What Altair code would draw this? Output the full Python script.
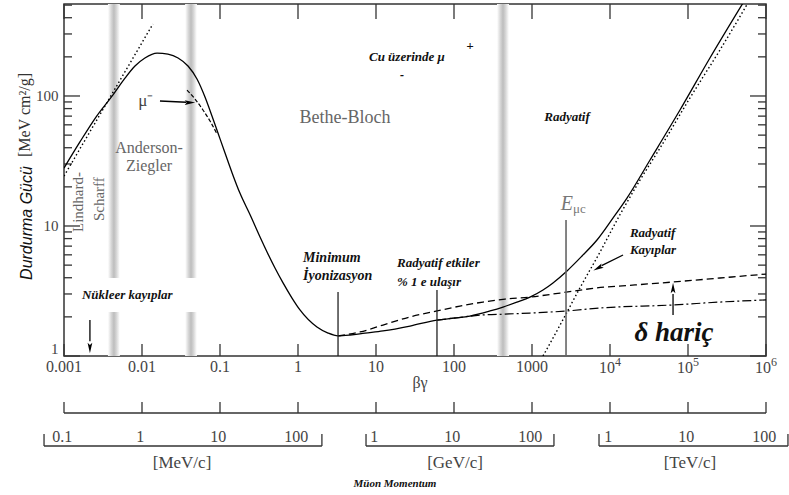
import altair as alt
import pandas as pd

SERIF = "Liberation Serif"
SANS = "Liberation Sans"
W, H = 702, 352

# ---------------- data (βγ , stopping power MeV cm²/g) ----------------
SOLID_BG = [0.001, 0.0016, 0.00257, 0.00425, 0.00605, 0.00813, 0.0109, 0.0156, 0.0215, 0.029,
            0.0389, 0.0507, 0.0642, 0.0789, 0.0942, 0.116, 0.143, 0.180, 0.243, 0.326,
            0.401, 0.507, 0.643, 0.838, 1.06, 1.75, 2.43, 3.26, 4.65, 7.23,
            12.3, 27.3, 60.5, 103, 160, 290, 425, 642, 942, 1384,
            1858, 2810, 4380, 6810, 10900, 16500, 32600, 78900, 191000, 507000]
SOLID_S = [27.9, 44.3, 68.9, 102, 137, 170, 196, 214, 210, 196,
           170, 135, 98.2, 70.2, 51.9, 36.4, 25.6, 17.9, 12.2, 8.23,
           6.31, 4.75, 3.65, 2.79, 2.26, 1.67, 1.50, 1.43, 1.45, 1.50,
           1.56, 1.70, 1.89, 1.96, 2.03, 2.22, 2.38, 2.60, 2.84, 3.22,
           3.65, 4.51, 5.88, 7.80, 11.5, 16.4, 32.2, 78.0, 196, 519]

NODELTA_BG = [3.26, 6.24, 12.3, 27.3, 60.5, 119, 235, 451, 942, 2290, 6810, 20900, 64300, 257000, 1e6]
NODELTA_S = [1.43, 1.53, 1.73, 2.0, 2.22, 2.42, 2.60, 2.74, 2.84, 3.05, 3.34, 3.52, 3.71, 3.98, 4.27]

ION_BG = [60.5, 103, 235, 451, 942, 2810, 7450, 64300, 257000, 1e6]
ION_S = [1.89, 1.96, 2.07, 2.10, 2.14, 2.22, 2.34, 2.47, 2.60, 2.70]

RAD_BG = [1384, 2290, 4120, 7450, 13400, 24300, 43800, 106000, 257000, 587000]
RAD_S = [1.0, 1.73, 3.34, 6.31, 12.2, 22.6, 39.8, 96.6, 226, 519]

LINDHARD_BG = [0.001, 0.0138]
LINDHARD_S = [24.2, 358]

MUMINUS_BG = [0.0378, 0.0478, 0.0605, 0.0745, 0.0916]
MUMINUS_S = [111, 94.8, 78.0, 64.2, 51.0]

MARK_BG = [3.26, 60.5]
MARK_TOP = [3.1, 3.22]
EMUC_BG = [2730]
EMUC_TOP = [11.1]

BAND_LO = [0.00366, 0.0357, 356]
BAND_HI = [0.0052, 0.0506, 507]

X_MAJOR = [0.001, 0.01, 0.1, 1, 10, 100, 1000, 1e4, 1e5, 1e6]
X_LABEL = ["0.001", "0.01", "0.1", "1", "10", "100", "1000", "10", "10", "10"]
X_EXP = ["", "", "", "", "", "", "", "4", "5", "6"]
Y_MAJOR = [1, 10, 100]
Y_MINOR = [2, 3, 4, 5, 6, 7, 8, 9, 20, 30, 40, 50, 60, 70, 80, 90, 200, 300, 400, 500]

MU_MASS_MEV = 105.66
P_LO = [0.0586, 787, 764000]
P_HI = [214, 202000, 202000000]
P_TICKS = [0.1, 1, 10, 100, 1000, 10000, 100000, 1e6, 1e7, 1e8]
P_LABEL = ["0.1", "1", "10", "100", "1", "10", "100", "1", "10", "100"]
UNIT_TEXT = ["[MeV/c]", "[GeV/c]", "[TeV/c]"]
UNIT_BG = [0.0326, 103, 106000]

# ---------------- scales ----------------
xs = alt.Scale(type="log", domain=[0.001, 1e6], nice=False, zero=False)
ys = alt.Scale(type="log", domain=[1, 510], nice=False, zero=False)
yaxis = alt.Axis(values=Y_MAJOR, format="~g", ticks=False, domain=False, grid=False,
                 labelFont=SERIF, labelFontSize=15, labelColor="#444", labelPadding=6,
                 labelFlush=True, title=None)


def X(f):
    return alt.X(f, type="quantitative", scale=xs, axis=None)


def X2(f):
    return alt.X2(f)


def Y(f):
    return alt.Y(f, type="quantitative", scale=ys, axis=yaxis)


def line(bg, s, dash=None, width=1.3, color="black"):
    df = pd.DataFrame({"bg": bg, "s": s})
    kw = dict(color=color, strokeWidth=width, clip=True, interpolate="monotone")
    if dash:
        kw["strokeDash"] = dash
    return alt.Chart(df).mark_line(**kw).encode(x=X("bg"), y=Y("s"))


def txt(text, x, y, size, color="black", bold=False, italic=False, align="center",
        angle=0, font=SERIF):
    df = pd.DataFrame({"t": [text], "x": [x], "y": [y]})
    kw = dict(font=font, fontSize=size, color=color, align=align, baseline="middle")
    if bold:
        kw["fontWeight"] = "bold"
    if italic:
        kw["fontStyle"] = "italic"
    if angle:
        kw["angle"] = angle
    return alt.Chart(df).mark_text(**kw).encode(x=X("x"), y=Y("y"), text="t:N")


ARROW = "M0,-1L0.45,1L0,0.6L-0.45,1Z"


def head(x, y, angle, size=110):
    df = pd.DataFrame({"x": [x], "y": [y]})
    kw = dict(shape=ARROW, filled=True, color="black", size=size, opacity=1)
    if angle:
        kw["angle"] = angle
    return alt.Chart(df).mark_point(**kw).encode(x=X("x"), y=Y("y"))


def seg(x1, y1, x2, y2, color="black", width=1.3):
    df = pd.DataFrame({"x": [x1, x2], "y": [y1, y2]})
    return alt.Chart(df).mark_line(color=color, strokeWidth=width).encode(x=X("x"), y=Y("y"))


layers = []

# gray bands
grad = alt.LinearGradient(gradient="linear", x1=0, x2=1, y1=0, y2=0,
                          stops=[alt.GradientStop(color="#ffffff", offset=0),
                                 alt.GradientStop(color="#d4d4d4", offset=0.3),
                                 alt.GradientStop(color="#bdbdbd", offset=0.5),
                                 alt.GradientStop(color="#d4d4d4", offset=0.7),
                                 alt.GradientStop(color="#ffffff", offset=1)])
bands = pd.DataFrame({"lo": BAND_LO, "hi": BAND_HI})
layers.append(alt.Chart(bands).mark_rect(fill=grad).encode(
    x=X("lo"), x2=X2("hi"), y=alt.value(0), y2=alt.value(H)))

# white box behind "Nükleer kayıplar"
layers.append(alt.Chart(pd.DataFrame({"a": [0.0029], "b": [0.0555], "c": [2.18], "d": [3.98]}))
              .mark_rect(color="white").encode(x=X("a"), x2=X2("b"), y=Y("c"), y2=alt.Y2("d")))

# ticks
xt = pd.DataFrame({"v": X_MAJOR})
layers.append(alt.Chart(xt).mark_rule(color="#333", strokeWidth=1.3).encode(
    x=X("v"), y=alt.value(H - 12), y2=alt.value(H)))
layers.append(alt.Chart(xt).mark_rule(color="#333", strokeWidth=1.3).encode(
    x=X("v"), y=alt.value(0), y2=alt.value(15)))
ymj = pd.DataFrame({"v": Y_MAJOR})
ymn = pd.DataFrame({"v": Y_MINOR})
for dfv, ln in ((ymj, 16), (ymn, 8)):
    layers.append(alt.Chart(dfv).mark_rule(color="#333", strokeWidth=1.3).encode(
        y=Y("v"), x=alt.value(0), x2=alt.value(ln)))
    layers.append(alt.Chart(dfv).mark_rule(color="#333", strokeWidth=1.3).encode(
        y=Y("v"), x=alt.value(W - ln), x2=alt.value(W)))

# curves
layers.append(line(LINDHARD_BG, LINDHARD_S, dash=[1.5, 2.5], width=1.4))
layers.append(line(RAD_BG, RAD_S, dash=[1.5, 2.5], width=1.4))
layers.append(line(ION_BG, ION_S, dash=[9, 3, 2, 3], width=1.2))
layers.append(line(NODELTA_BG, NODELTA_S, dash=[7, 4], width=1.3))
layers.append(line(MUMINUS_BG, MUMINUS_S, dash=[4, 2], width=1.2))
layers.append(line(SOLID_BG, SOLID_S, width=1.3))

# vertical marker lines
mk = pd.DataFrame({"bg": MARK_BG, "top": MARK_TOP})
layers.append(alt.Chart(mk).mark_rule(color="#222", strokeWidth=1.3).encode(
    x=X("bg"), y=Y("top"), y2=alt.value(H)))
em = pd.DataFrame({"bg": EMUC_BG, "top": EMUC_TOP})
layers.append(alt.Chart(em).mark_rule(color="#666", strokeWidth=1.6).encode(
    x=X("bg"), y=Y("top"), y2=alt.value(H)))

# gray region labels
layers.append(txt("Lindhard-", 0.00151, 15.3, 15, color="#666", angle=270))
layers.append(txt("Scharff", 0.00281, 16.1, 15, color="#666", angle=270))
layers.append(txt("Anderson-", 0.0123, 39.8, 16, color="#666"))
layers.append(txt("Ziegler", 0.0123, 28.9, 16, color="#666"))
layers.append(txt("Bethe-Bloch", 4.0, 67.7, 18, color="#666"))
layers.append(txt("μ⁻", 0.0112, 91.5, 17, color="#444"))
layers.append(txt("E", 3360, 14.8, 20, color="#777", italic=True, align="right"))
layers.append(txt("μc", 3360, 13.6, 13, color="#777", align="left"))

# bold italic annotations
BI = dict(bold=True, italic=True, color="#111")
layers.append(txt("Cu üzerinde  μ", 24.9, 200, 13, **BI))
layers.append(txt("+", 160, 243, 13, **BI))
layers.append(txt("-", 21.5, 145, 12, **BI))
layers.append(txt("Minimum", 1.16, 5.67, 14, align="left", **BI))
layers.append(txt("İyonizasyon", 1.16, 4.12, 14, align="left", **BI))
layers.append(txt("Radyatif etkiler", 18.6, 5.19, 13, align="left", **BI))
layers.append(txt("% 1 e ulaşır", 18.6, 3.71, 13, align="left", **BI))
layers.append(txt("Radyatif", 2810, 68.9, 13, **BI))
layers.append(txt("Radyatif", 18000, 8.83, 13, align="left", **BI))
layers.append(txt("Kayıplar", 18000, 6.54, 13, align="left", **BI))
layers.append(txt("δ hariç", 66200, 1.50, 27, **BI))
layers.append(txt("Nükleer kayıplar", 0.0017, 2.94, 13, align="left", **BI))

# arrows
layers.append(seg(0.017, 91.5, 0.037, 89.5))
layers.append(head(0.0412, 89, 90))
layers.append(seg(14700, 5.98, 7800, 4.95))
layers.append(head(7020, 4.75, 242))
layers.append(seg(64300, 2.07, 64300, 3.0))
layers.append(head(64300, 3.34, 0))
layers.append(seg(0.00215, 1.89, 0.00215, 1.3))
layers.append(head(0.00215, 1.15, 180))

# x tick labels (bottom of plot)
xl = pd.DataFrame({"v": X_MAJOR, "t": X_LABEL, "e": X_EXP})
layers.append(alt.Chart(xl).transform_filter("datum.e == ''").mark_text(
    font=SERIF, fontSize=16, color="#444", baseline="middle").encode(
    x=X("v"), y=alt.value(H + 11), text="t:N"))
layers.append(alt.Chart(xl).transform_filter("datum.e != ''").mark_text(
    font=SERIF, fontSize=16, color="#444", baseline="middle", dx=-3).encode(
    x=X("v"), y=alt.value(H + 12), text="t:N"))
layers.append(alt.Chart(xl).transform_filter("datum.e != ''").mark_text(
    font=SERIF, fontSize=12, color="#444", baseline="middle", align="left", dx=5).encode(
    x=X("v"), y=alt.value(H + 6), text="e:N"))
layers.append(txt("βγ", 36.7, 1, 16, color="#444").encode(y=alt.value(H + 27)))

# second βγ scale line
layers.append(alt.Chart(pd.DataFrame({"a": [0.001], "b": [1e6]})).mark_rule(
    color="#333", strokeWidth=1.3).encode(x=X("a"), x2=X2("b"), y=alt.value(H + 57)))
layers.append(alt.Chart(xt).mark_rule(color="#333", strokeWidth=1.3).encode(
    x=X("v"), y=alt.value(H + 46), y2=alt.value(H + 57)))

# momentum brackets
br = pd.DataFrame({"lo": P_LO, "hi": P_HI}).assign(
    blo=lambda d: d.lo / MU_MASS_MEV, bhi=lambda d: d.hi / MU_MASS_MEV)
layers.append(alt.Chart(br).mark_rule(color="#333", strokeWidth=1.3).encode(
    x=X("blo"), x2=X2("bhi"), y=alt.value(H + 90)))
ends = pd.DataFrame({"v": list(br.blo) + list(br.bhi)})
layers.append(alt.Chart(ends).mark_rule(color="#333", strokeWidth=1.3).encode(
    x=X("v"), y=alt.value(H + 78), y2=alt.value(H + 90)))
pl = pd.DataFrame({"p": P_TICKS, "t": P_LABEL}).assign(bg=lambda d: d.p / MU_MASS_MEV)
layers.append(alt.Chart(pl).mark_text(font=SERIF, fontSize=16, color="#444", baseline="middle").encode(
    x=X("bg"), y=alt.value(H + 81), text="t:N"))
ul = pd.DataFrame({"bg": UNIT_BG, "t": UNIT_TEXT})
layers.append(alt.Chart(ul).mark_text(font=SERIF, fontSize=17, color="#444", baseline="middle").encode(
    x=X("bg"), y=alt.value(H + 107), text="t:N"))
layers.append(txt("Müon Momentum", 17.5, 1, 11, **BI).encode(y=alt.value(H + 128)))

# y-axis title (two fonts)
layers.append(alt.Chart(pd.DataFrame({"t": ["Durdurma Gücü"]})).mark_text(
    font=SANS, fontSize=16, fontStyle="italic", color="#111", angle=270, baseline="middle").encode(
    x=alt.value(-37), y=alt.value(219), text="t:N"))
layers.append(alt.Chart(pd.DataFrame({"t": ["[MeV cm²/g]"]})).mark_text(
    font=SERIF, fontSize=16, color="#333", angle=270, baseline="middle").encode(
    x=alt.value(-39), y=alt.value(111), text="t:N"))

chart = alt.layer(*layers).properties(
    width=W, height=H,
    autosize=alt.AutoSizeParams(type="none"),
    padding={"left": 64, "top": 4, "right": 23, "bottom": 139},
    background="white",
).configure_view(stroke="#333", strokeWidth=1.5)

chart.save("out.html", embed_options={"renderer": "svg", "actions": False})
